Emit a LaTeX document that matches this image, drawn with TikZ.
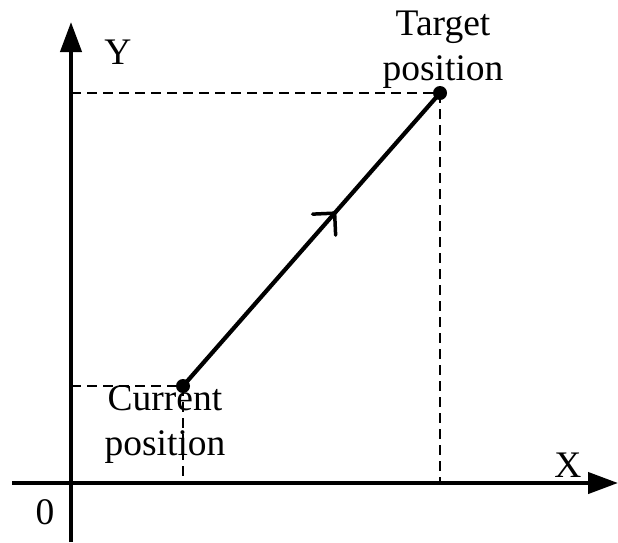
\documentclass[tikz,border=0pt]{standalone}
\usepackage{fontspec}
\setmainfont{Liberation Serif}
\usetikzlibrary{arrows.meta,calc}
\begin{document}
\begin{tikzpicture}[x=1pt,y=-1pt,
  axis/.style={line width=4.2pt,-{Triangle[length=30pt,width=21pt]}},
  guide/.style={line width=2pt,dash pattern=on 10pt off 6pt},
  motion/.style={line width=4.2pt},
  pt/.style={circle,fill=black,inner sep=0pt,minimum size=14pt},
  lbl/.style={font=\fontsize{37.5}{45}\selectfont,align=center,inner sep=0pt}]
\useasboundingbox (0,0) rectangle (618,542);
\coordinate (o) at (71,483);
\coordinate (ybot) at (71,542);
\coordinate (ytop) at (71,22);
\coordinate (xl) at (12,483);
\coordinate (xr) at (618,483);
\node[pt] (cur) at (183,386) {};
\node[pt] (tgt) at (440,93) {};
\coordinate (cury) at (o |- cur);
\coordinate (curx) at (cur |- o);
\coordinate (tgty) at (o |- tgt);
\coordinate (tgtx) at (tgt |- o);
\draw[guide] (cury) -- (cur.center);
\draw[guide] (cur.center) -- (curx);
\draw[guide] (tgty) -- (tgt.center);
\draw[guide] (tgt.center) -- (tgtx);
\draw[axis] (ybot) -- (ytop);
\draw[axis] (xl) -- (xr);
\draw[motion] (cur.center) -- (tgt.center) coordinate[pos=0.59] (mid);
\draw[line width=3.5pt,line cap=round,line join=miter] ($(mid)+(-22,1)$) -- (mid) -- ($(mid)+(1,22)$);
\node[lbl] (ylab) at (118,52) {Y};
\node[lbl] (xlab) at (568,465) {X};
\node[lbl] (zero) at (45,512) {0};
\node[lbl] (tlab) at (443,50) {Target\\position};
\node[lbl] (clab) at (165,425) {Current\\position};
\end{tikzpicture}
\end{document}
